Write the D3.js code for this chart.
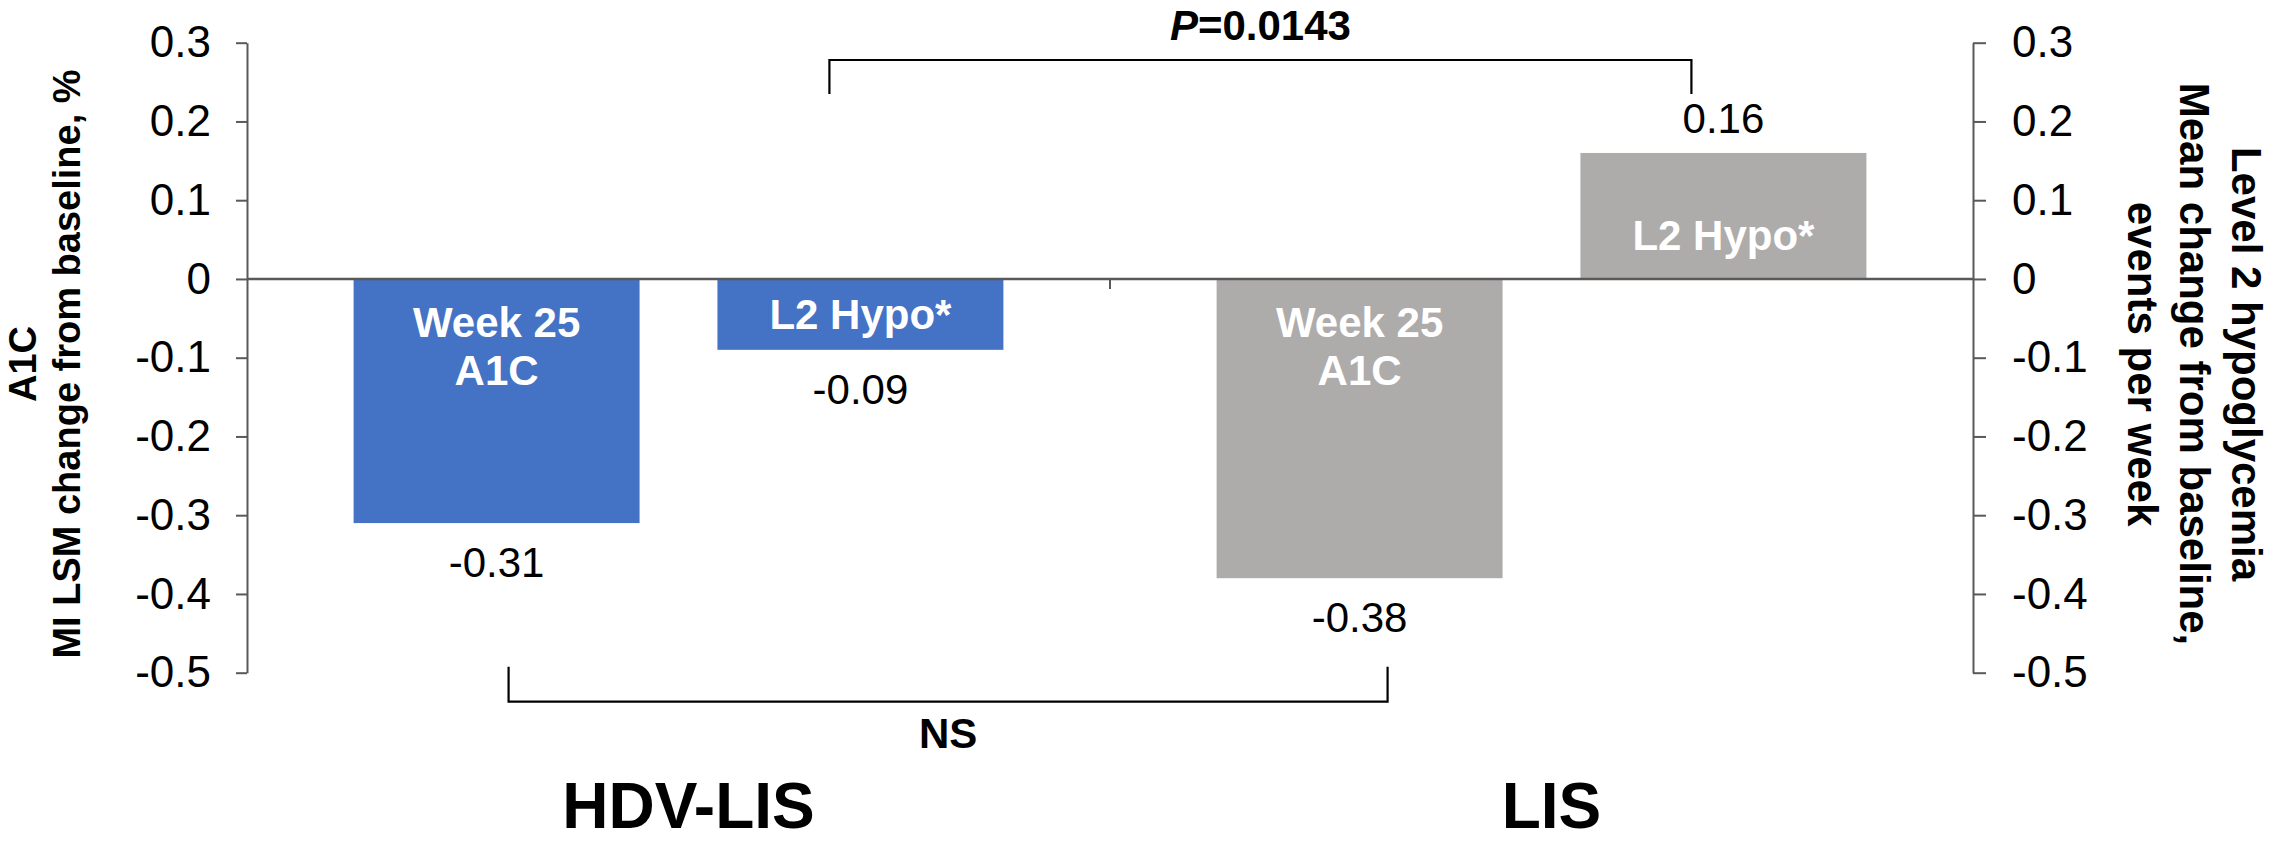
<!DOCTYPE html>
<html>
<head>
<meta charset="utf-8">
<script src="https://cdn.jsdelivr.net/npm/d3@7"></script>
<style>
  body { margin: 0; background: #ffffff; }
  svg { display: block; }
  text { font-family: "Liberation Sans", Arial, Helvetica, sans-serif; }
</style>
</head>
<body>
<svg id="chart" width="2279" height="844"></svg>
<script>
// ---- data ----
const groups = ["HDV-LIS", "LIS"];
const seriesKeys = ["A1C", "Hypo"];
const a1cChange = [-0.31, -0.38];          // week 25 A1C, MI LSM change from baseline (%)
const hypoChange = [-0.09, 0.16];          // level 2 hypoglycemia, events per week change
const seriesLabels = [["Week 25", "A1C"], ["L2 Hypo*"]];
const yTicks = [0.3, 0.2, 0.1, 0, -0.1, -0.2, -0.3, -0.4, -0.5];
const leftTitle = ["A1C", "MI LSM change from baseline, %"];
const rightTitle = ["Level 2 hypoglycemia", "Mean change from baseline,", "events per week"];
const pLabel = ["P", "=0.0143"];
const nsLabel = "NS";

// ---- styles ----
const groupColors = { "HDV-LIS": "#4472C4", "LIS": "#AEABAB" };
const axisColor = "#595959";

// ---- layout ----
const W = 2279, H = 844;
const plot = { left: 247, right: 1973, top: 42.7, bottom: 672.7 };

const svg = d3.select("#chart");

const y = d3.scaleLinear().domain([-0.5, 0.3]).range([plot.bottom, plot.top]);
const yRight = y.copy();

const x0 = d3.scaleBand().domain(groups).range([plot.left, plot.right]).paddingInner(0).paddingOuter(0);
const x1 = d3.scaleBand().domain(seriesKeys).range([0, x0.bandwidth()])
  .paddingInner(0.214).paddingOuter(0.293);

const bars = [];
groups.forEach((g, gi) => {
  bars.push({ group: g, key: "A1C", value: a1cChange[gi], lines: seriesLabels[0] });
  bars.push({ group: g, key: "Hypo", value: hypoChange[gi], lines: seriesLabels[1] });
});
const cx = d => x0(d.group) + x1(d.key) + x1.bandwidth() / 2;

const tickFmt = d => d === 0 ? "0" : d.toFixed(1);

// left value axis
const gL = svg.append("g").attr("transform", `translate(${plot.left},0)`)
  .call(d3.axisLeft(y).tickValues(yTicks).tickFormat(tickFmt).tickSize(11).tickSizeOuter(0).tickPadding(25));
// right value axis
const gR = svg.append("g").attr("transform", `translate(${plot.right},0)`)
  .call(d3.axisRight(yRight).tickValues(yTicks).tickFormat(tickFmt).tickSize(13).tickSizeOuter(0).tickPadding(26));

[gL, gR].forEach(g => {
  g.select(".domain").attr("stroke", axisColor).attr("stroke-width", 2);
  g.selectAll(".tick line").attr("stroke", axisColor).attr("stroke-width", 2);
  g.selectAll(".tick text").attr("fill", "#000").attr("font-size", 44)
    .attr("font-family", "'Liberation Sans', Arial, sans-serif");
});

// bars
svg.append("g").selectAll("rect").data(bars).join("rect")
  .attr("x", d => x0(d.group) + x1(d.key))
  .attr("width", x1.bandwidth())
  .attr("y", d => Math.min(y(d.value), y(0)))
  .attr("height", d => Math.abs(y(d.value) - y(0)))
  .attr("fill", d => groupColors[d.group]);

// zero / category axis
const gX = svg.append("g").attr("transform", `translate(0,${y(0)})`);
gX.append("line").attr("x1", plot.left).attr("x2", plot.right)
  .attr("stroke", axisColor).attr("stroke-width", 2.5);
gX.selectAll("line.cat").data(groups.slice(1)).join("line").attr("class", "cat")
  .attr("x1", d => x0(d)).attr("x2", d => x0(d)).attr("y1", 0).attr("y2", 10)
  .attr("stroke", axisColor).attr("stroke-width", 2);

// in-bar labels (near the base)
const capH = 0.716 * 42, lineGap = 48.3;
bars.forEach(d => {
  const y0 = y(0), yv = y(d.value);
  const mid = (y0 + yv) / 2;
  const n = d.lines.length;
  const blockH = capH + (n - 1) * lineGap;
  let firstBaseline;
  if (d.value < 0) {
    const capTop = Math.min(y0 + 28, mid - blockH / 2);
    firstBaseline = capTop + capH;
  } else {
    const lastBaseline = Math.max(y0 - 29, mid + blockH / 2);
    firstBaseline = lastBaseline - (n - 1) * lineGap;
  }
  const t = svg.append("text").attr("text-anchor", "middle").attr("fill", "#fff")
    .attr("font-weight", "bold").attr("font-size", 42);
  d.lines.forEach((ln, i) => {
    t.append("tspan").attr("x", cx(d)).attr("y", firstBaseline + i * lineGap).text(ln);
  });
});

// value labels outside the bar end
svg.append("g").selectAll("text").data(bars).join("text")
  .attr("x", cx)
  .attr("y", d => d.value < 0 ? y(d.value) + 54 : y(d.value) - 20)
  .attr("text-anchor", "middle").attr("font-size", 42).attr("fill", "#000")
  .text(d => d.value.toFixed(2));

// comparison brackets
const hypoBars = bars.filter(d => d.key === "Hypo");
const a1cBars = bars.filter(d => d.key === "A1C");
const topL = cx(hypoBars[0]) - 31, topR = cx(hypoBars[1]) - 32;
const topY = 60, topLeg = 94;
svg.append("path")
  .attr("d", `M${topL},${topLeg}V${topY}H${topR}V${topLeg}`)
  .attr("fill", "none").attr("stroke", "#000").attr("stroke-width", 2.2);
const pText = svg.append("text").attr("x", (topL + topR) / 2).attr("y", 40)
  .attr("text-anchor", "middle").attr("font-size", 42).attr("font-weight", "bold").attr("fill", "#000");
pText.append("tspan").attr("font-style", "italic").text(pLabel[0]);
pText.append("tspan").text(pLabel[1]);

const botL = cx(a1cBars[0]) + 12, botR = cx(a1cBars[1]) + 28;
const botY = 701.7, botLeg = 666.7;
svg.append("path")
  .attr("d", `M${botL},${botLeg}V${botY}H${botR}V${botLeg}`)
  .attr("fill", "none").attr("stroke", "#000").attr("stroke-width", 2.2);
svg.append("text").attr("x", (botL + botR) / 2).attr("y", 748)
  .attr("text-anchor", "middle").attr("font-size", 42).attr("font-weight", "bold").attr("fill", "#000")
  .text(nsLabel);

// group labels
svg.append("g").selectAll("text").data(groups).join("text")
  .attr("x", g => x0(g) + x0.bandwidth() / 2 + 10)
  .attr("y", 828)
  .attr("text-anchor", "middle").attr("font-size", 64).attr("font-weight", "bold").attr("fill", "#000")
  .text(g => g);

// axis titles
const yMid = 364;
const leftBase = [36.4, 80.4];
leftTitle.forEach((ln, i) => {
  svg.append("text").attr("transform", `translate(${leftBase[i]},${yMid}) rotate(-90)`)
    .attr("text-anchor", "middle").attr("font-size", 38).attr("font-weight", "bold").attr("fill", "#000")
    .text(ln);
});
const rightBase = [2232, 2180, 2128];
rightTitle.forEach((ln, i) => {
  svg.append("text").attr("transform", `translate(${rightBase[i]},${yMid}) rotate(90)`)
    .attr("text-anchor", "middle").attr("font-size", 42).attr("font-weight", "bold").attr("fill", "#000")
    .text(ln);
});
</script>
</body>
</html>
